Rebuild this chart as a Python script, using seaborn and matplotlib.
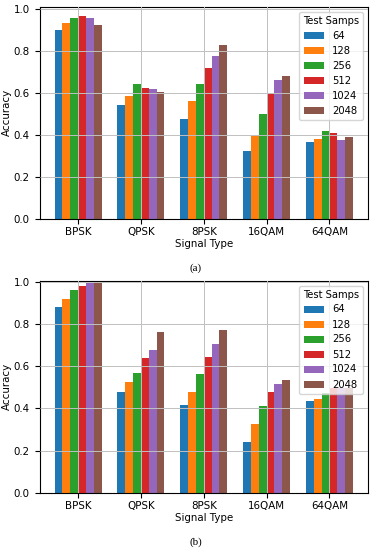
import pandas as pd
import seaborn as sns
import matplotlib.pyplot as plt

signal_types = ["BPSK", "QPSK", "8PSK", "16QAM", "64QAM"]
test_samps = ["64", "128", "256", "512", "1024", "2048"]

# panel (a)
a_64 = [0.899, 0.544, 0.477, 0.325, 0.368]
a_128 = [0.931, 0.587, 0.561, 0.398, 0.378]
a_256 = [0.957, 0.640, 0.644, 0.500, 0.416]
a_512 = [0.966, 0.624, 0.719, 0.595, 0.408]
a_1024 = [0.954, 0.619, 0.776, 0.659, 0.375]
a_2048 = [0.922, 0.605, 0.827, 0.681, 0.389]

# panel (b)
b_64 = [0.881, 0.478, 0.416, 0.240, 0.435]
b_128 = [0.917, 0.526, 0.476, 0.324, 0.446]
b_256 = [0.962, 0.570, 0.562, 0.413, 0.474]
b_512 = [0.983, 0.638, 0.644, 0.476, 0.497]
b_1024 = [0.994, 0.678, 0.705, 0.514, 0.498]
b_2048 = [0.998, 0.762, 0.771, 0.535, 0.498]


def to_long(series):
    rows = []
    for samp, vals in zip(test_samps, series):
        for sig, v in zip(signal_types, vals):
            rows.append({"Signal Type": sig, "Test Samps": samp, "Accuracy": v})
    return pd.DataFrame(rows)


df_a = to_long([a_64, a_128, a_256, a_512, a_1024, a_2048])
df_b = to_long([b_64, b_128, b_256, b_512, b_1024, b_2048])

plt.rcParams["font.size"] = 7.4
fig = plt.figure(figsize=(3.77, 5.5), dpi=100)
ax_a = fig.add_axes([0.105, 0.602, 0.871, 0.386])
ax_b = fig.add_axes([0.105, 0.104, 0.871, 0.386])
colors = sns.color_palette("tab10", 6)

for ax, df, top, cap, cap_y in [(ax_a, df_a, 1.01, "(a)", 0.503),
                                (ax_b, df_b, 1.007, "(b)", 0.006)]:
    sns.barplot(data=df, x="Signal Type", y="Accuracy", hue="Test Samps",
                order=signal_types, hue_order=test_samps, palette=colors,
                saturation=1, width=0.75, gap=0, linewidth=0, ax=ax,
                errorbar=None)
    ax.set_xlim(-0.6125, 4.6125)
    ax.set_ylim(0, top)
    ax.set_axisbelow(False)
    ax.grid(True, color="#c0c0c0", linewidth=0.7)
    ax.tick_params(axis="x", pad=2.5)
    ax.set_xlabel("Signal Type", labelpad=1.5)
    ax.set_ylabel("Accuracy", labelpad=1.5)
    ax.legend(title="Test Samps", loc="upper right", fontsize=7.2,
              title_fontsize=7.2)
    fig.text(0.52, cap_y, cap, ha="center", va="bottom",
             family="Liberation Serif", fontsize=8)

fig.savefig("out.png", dpi=100)
